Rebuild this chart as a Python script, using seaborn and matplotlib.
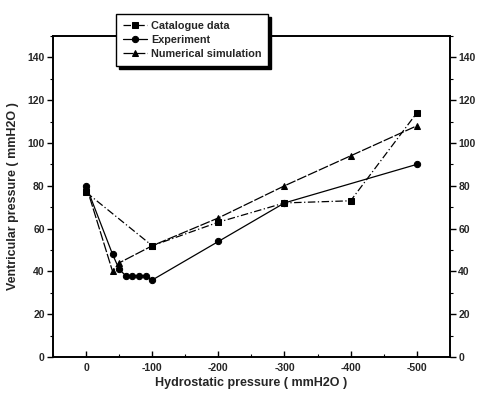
import matplotlib
matplotlib.use("Agg")
import matplotlib.pyplot as plt
import seaborn as sns
import pandas as pd
from matplotlib.ticker import MultipleLocator, FuncFormatter

sns.set_theme(style="ticks")
plt.rcParams['font.family'] = ['Liberation Sans', 'DejaVu Sans']
plt.rcParams['font.weight'] = 'bold'

cat_x = [0, -100, -200, -300, -400, -500]
cat_y = [77, 52, 63, 72, 73, 114]
exp_x = [0, -40, -50, -60, -70, -80, -90, -100, -200, -300, -500]
exp_y = [80, 48, 41, 38, 38, 38, 38, 36, 54, 72, 90]
num_x = [0, -40, -50, -100, -200, -300, -400, -500]
num_y = [80, 40, 44, 52, 65, 80, 94, 108]

labels = ["Catalogue data", "Experiment", "Numerical simulation"]

df = pd.concat([
    pd.DataFrame({"x": cat_x, "y": cat_y, "s": labels[0]}),
    pd.DataFrame({"x": exp_x, "y": exp_y, "s": labels[1]}),
    pd.DataFrame({"x": num_x, "y": num_y, "s": labels[2]}),
])

fig = plt.figure(figsize=(4.78, 3.95), dpi=100)
ax = fig.add_axes([0.111, 0.096, 0.830, 0.813])

sns.lineplot(data=df, x="x", y="y", hue="s", style="s", sort=False,
             palette=["black", "black", "black"],
             markers={labels[0]: "s", labels[1]: "o", labels[2]: "^"},
             dashes={labels[0]: (6, 2, 1, 2), labels[1]: "", labels[2]: (8, 1.5)},
             markersize=4.5, linewidth=0.9, markeredgecolor="black", ax=ax, legend=True)

ax.set_xlim(50, -550)
ax.set_ylim(0, 150)
ax.xaxis.set_major_locator(MultipleLocator(100))
ax.xaxis.set_minor_locator(MultipleLocator(50))
ax.yaxis.set_major_locator(MultipleLocator(20))
ax.yaxis.set_minor_locator(MultipleLocator(10))
ax.xaxis.set_major_formatter(FuncFormatter(lambda v, p: f"{int(round(v))}"))
ax.tick_params(axis='x', which='both', direction='in', top=False, labelsize=7.5, pad=4)
ax.tick_params(axis='y', which='both', direction='out', left=True, right=True,
               labelleft=True, labelright=True, labelsize=7.5, pad=2)
ax.tick_params(which='major', length=4, width=1, color='black')
ax.tick_params(which='minor', length=2.5, width=0.8, color='black')
for sp in ax.spines.values():
    sp.set_linewidth(1.4)
    sp.set_color('black')
    sp.set_visible(True)

ax.set_xlabel("Hydrostatic pressure ( mmH2O )", fontsize=9, fontweight='bold', labelpad=3)
ax.set_ylabel("Ventricular pressure ( mmH2O )", fontsize=9, fontweight='bold', labelpad=6)

handles, lbls = ax.get_legend_handles_labels()
ax.get_legend().remove()
leg = fig.legend(handles, lbls, loc="upper left", bbox_to_anchor=(0.232, 0.978),
                 frameon=True, fancybox=False, fontsize=7.8, handlelength=2.2,
                 borderpad=0.6, labelspacing=0.4, handletextpad=0.4,
                 shadow={'color': 'black', 'alpha': 1, 'ox': 2, 'oy': -2})
leg.get_frame().set_edgecolor('black')
leg.get_frame().set_linewidth(1.0)
leg.get_frame().set_facecolor('white')
for t in leg.get_texts():
    t.set_fontweight('bold')

fig.savefig("out.png", dpi=100)
